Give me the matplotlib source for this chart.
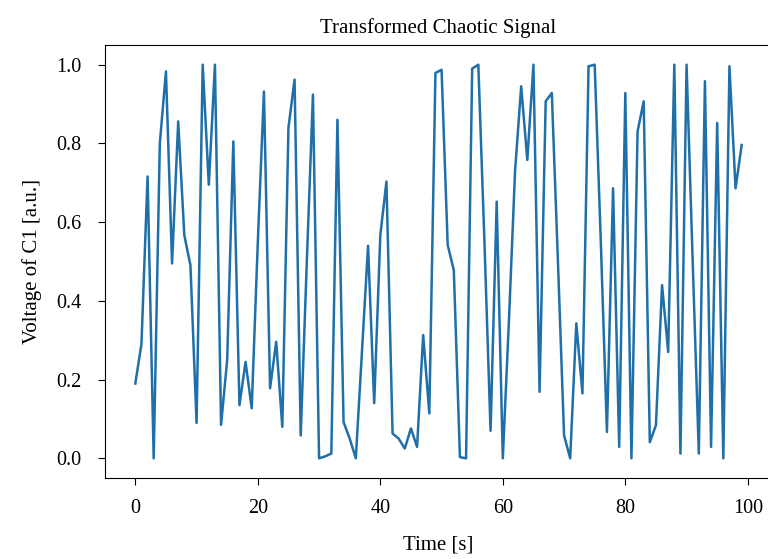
import matplotlib
matplotlib.use("Agg")
import matplotlib.pyplot as plt
import numpy as np

# sampled signal, one value per second
time_s = np.arange(100)
voltage = [
    0.19, 0.29, 0.716, 0.0, 0.80, 0.983, 0.495, 0.856, 0.567, 0.49,
    0.09, 1.0, 0.695, 1.0, 0.085, 0.25, 0.805, 0.135, 0.245, 0.127,
    0.55, 0.932, 0.178, 0.296, 0.08, 0.84, 0.962, 0.058, 0.50, 0.924,
    0.0, 0.005, 0.012, 0.86, 0.092, 0.05, 0.0, 0.27, 0.54, 0.14,
    0.567, 0.703, 0.063, 0.05, 0.025, 0.076, 0.029, 0.313, 0.114, 0.979,
    0.987, 0.542, 0.478, 0.003, 0.0, 0.99, 1.0, 0.55, 0.07, 0.652,
    0.0, 0.35, 0.73, 0.945, 0.758, 1.0, 0.169, 0.907, 0.928, 0.50,
    0.058, 0.0, 0.343, 0.165, 0.996, 1.0, 0.55, 0.067, 0.686, 0.029,
    0.928, 0.0, 0.83, 0.907, 0.041, 0.084, 0.44, 0.27, 1.0, 0.012,
    1.0, 0.50, 0.012, 0.958, 0.029, 0.852, 0.0, 0.996, 0.686, 0.796,
]

plt.rcParams['font.family'] = ['Liberation Serif', 'DejaVu Serif']
plt.rcParams['font.size'] = 15

fig = plt.figure(figsize=(7.68, 5.59), dpi=100)
# right edge of the axes falls just past the canvas, as in the reference
ax = fig.add_axes([105/768, 81/559, 667/768, 433/559])

ax.plot(time_s, voltage, color='#1f6fa8', lw=1.8)

ax.set_xticks([0, 20, 40, 60, 80, 100])
ax.set_yticks([0.0, 0.2, 0.4, 0.6, 0.8, 1.0])
ax.tick_params(axis='both', labelsize=14.5)
ax.tick_params(axis='x', length=5, pad=10)
ax.tick_params(axis='y', length=5, pad=12)
ax.spines['right'].set_visible(False)

ax.set_title("Transformed Chaotic Signal", fontsize=15, pad=9)
ax.set_xlabel("Time [s]", labelpad=13)
ax.set_ylabel("Voltage of C1 [a.u.]", labelpad=10)

fig.savefig("out.png", dpi=100)
